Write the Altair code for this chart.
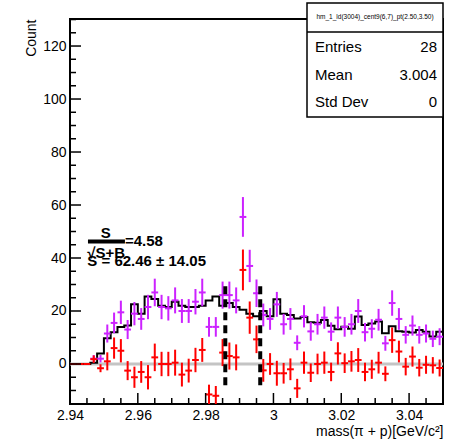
import altair as alt
import pandas as pd

# ---- histogram binning: 55 bins of 2 MeV/c^2 ----
X_MIN, X_MAX = 2.94, 3.05
Y_MIN, Y_MAX = -15.1, 130.2
BIN_W = 0.002
N_BINS = 55

# same-event pi+p candidates per bin (None = empty bin)
same_event = [None, None, None, 2, 2, 11.5, 15.5, 19.5, 13, 19,
              17, 21.5, 27, 21.5, 21, 24, 20, 20, 23.5, 27,
              14, 14, 26, 26, 24, 55.5, 37, 26.7, 18.5, 17,
              22.5, 15, 17, 8, 18, 12.3, 15, 17.5, 12.2, 17.5,
              14, 15, 20, 12, 13.3, 16.7, 7.8, 23, 17, 11,
              14.5, 11, 11.5, 9.5, 10.3]
same_event_err = [0, 0, 0, 1.4, 1.4, 3.4, 3.9, 4.4, 3.6, 4.4,
                  4.1, 4.6, 5.2, 4.6, 4.6, 4.9, 4.5, 4.5, 4.8, 5.2,
                  3.7, 3.7, 5.1, 5.1, 4.9, 7.5, 6.1, 5.2, 4.3, 4.1,
                  4.7, 3.9, 4.1, 2.8, 4.2, 3.5, 3.9, 4.2, 3.5, 4.2,
                  3.7, 3.9, 4.5, 3.5, 3.6, 4.1, 2.8, 4.8, 4.1, 3.3,
                  3.8, 3.3, 3.4, 3.1, 3.2]

# scaled mixed-event background (drawn as a step histogram)
mixed_bkg = [0, 0, 0, 0.5, 4, 9.7, 12, 14, 14.5, 22.5,
             19, 25.5, 24.5, 22, 21.5, 23.5, 22, 21.5, 21.5, 22,
             24, 25.5, 22, 23, 21.5, 20.5, 19, 18, 20, 18,
             24.4, 19, 18.5, 17.2, 17.7, 15.8, 15.6, 16.6, 14.4, 13.1,
             14.1, 13.3, 17.9, 14.7, 15.3, 16, 11.6, 14.2, 12.4, 12.2,
             11.9, 12.8, 12.2, 10.4, 12.2]

# background-subtracted signal
signal = [0, 0, 0, 1.8, -1.6, 1, 6, 5, -2.5, -5,
          -3, -5, 2.5, 0, 0, 0.5, -4, -2.5, 1.5, 5.3,
          -11.5, -12, 4.3, 3, 2.5, 35.5, 17.5, 9.3, -2.4, 0,
          -3.5, -3.5, -2, -9.2, 0.5, -3.3, 0, 0.5, -3, 4,
          0.3, 1, 1.5, -3, -2, 0.5, -3.7, 9, 4.7, -1,
          2.8, -1.4, -0.3, -0.5, -1.5]
signal_err = [0, 0, 0, 1.4, 1.5, 3.4, 4.0, 4.4, 3.6, 4.0,
              4.1, 4.6, 5.2, 4.6, 4.6, 4.9, 4.5, 4.5, 4.6, 4.5,
              3.7, 3.7, 5.1, 5.1, 4.9, 7.7, 6.1, 5.2, 4.3, 4.1,
              4.7, 3.9, 4.1, 3.6, 4.2, 3.5, 3.9, 4.2, 3.5, 4.2,
              3.7, 3.9, 4.5, 3.5, 3.6, 4.1, 2.8, 4.8, 4.1, 3.3,
              3.8, 3.3, 3.4, 3.1, 3.2]

# signal integration window
window_edges = [2.9858, 2.9961]
window_span = [-8, 30]

# fit annotation
significance_text = "=4.58"
yield_text = "S = 62.46 \u00b1 14.05"

# stats box contents
stats_title = "hm_1_ld(3004)_cent9(6,7)_pt(2.50,3.50)"
stats_names = ["Entries", "Mean", "Std Dev"]
stats_values = ["28", "3.004", "0"]

# axis ticks
x_major = [2.94, 2.96, 2.98, 3.00, 3.02, 3.04]
x_minor = [2.945, 2.95, 2.955, 2.965, 2.97, 2.975, 2.985, 2.99, 2.995,
           3.005, 3.01, 3.015, 3.025, 3.03, 3.035, 3.045, 3.05]
y_major = [0, 20, 40, 60, 80, 100, 120]
y_minor = [-15, -10, -5, 5, 10, 15, 25, 30, 35, 45, 50, 55, 65, 70, 75,
           85, 90, 95, 105, 110, 115, 125, 130]

W, H = 373, 385
FONT = "Liberation Sans"
PURPLE = "#cc22ff"
RED = "#ff0000"

lo = [X_MIN + BIN_W * i for i in range(N_BINS)]
bins = pd.DataFrame({
    "lo": lo,
    "hi": [v + BIN_W for v in lo],
    "mid": [v + BIN_W / 2 for v in lo],
    "same": same_event,
    "same_err": same_event_err,
    "sig": signal,
    "sig_err": signal_err,
})
bins["same"] = pd.to_numeric(bins["same"])
bins["same_lo"] = bins["same"] - bins["same_err"]
bins["same_hi"] = bins["same"] + bins["same_err"]
bins["sig_lo"] = bins["sig"] - bins["sig_err"]
bins["sig_hi"] = bins["sig"] + bins["sig_err"]
same_df = bins.dropna(subset=["same"])

step_df = pd.DataFrame({"x": lo + [X_MAX], "y": mixed_bkg + [mixed_bkg[-1]]})

xs = alt.Scale(domain=[X_MIN, X_MAX], nice=False, zero=False)
ys = alt.Scale(domain=[Y_MIN, Y_MAX], nice=False, zero=False)

x_axis = alt.Axis(values=x_major, format=".3~g", domain=False, ticks=False, grid=False,
                  labelPadding=4, labelFontSize=14, labelFont=FONT, labelColor="black",
                  labelFlush=False,
                  title="mass(\u03c0 + p)[GeV/c\u00b2]", titleFont=FONT, titleFontSize=14,
                  titleFontWeight="normal", titleColor="black", titleX=W, titleY=31,
                  titleAlign="right", titleBaseline="alphabetic")
y_axis = alt.Axis(values=y_major, format="d", domain=False, ticks=False, grid=False,
                  labelPadding=4, labelFontSize=14, labelFont=FONT, labelColor="black",
                  labelFlush=False,
                  title="Count", titleFont=FONT, titleFontSize=14, titleFontWeight="normal",
                  titleColor="black", titleAngle=270, titleX=-35, titleY=0,
                  titleAlign="right", titleBaseline="alphabetic")

zero_line = alt.Chart(pd.DataFrame({"x0": [X_MIN], "x1": [X_MAX], "y": [0]})).mark_rule(
    color="#c4c4c4", strokeWidth=3
).encode(
    x=alt.X("x0:Q", scale=xs, axis=x_axis),
    x2="x1:Q",
    y=alt.Y("y:Q", scale=ys, axis=y_axis),
)

bkg_line = alt.Chart(step_df).mark_line(
    interpolate="step-after", color="black", strokeWidth=2, clip=True
).encode(x=alt.X("x:Q", scale=xs), y=alt.Y("y:Q", scale=ys))


def error_cross(df, col, color):
    vert = alt.Chart(df).mark_rule(color=color, strokeWidth=2, clip=True).encode(
        x=alt.X("mid:Q", scale=xs),
        y=alt.Y(f"{col}_lo:Q", scale=ys),
        y2=f"{col}_hi:Q",
    )
    horiz = alt.Chart(df).mark_rule(color=color, strokeWidth=2, clip=True).encode(
        x=alt.X("lo:Q", scale=xs),
        x2="hi:Q",
        y=alt.Y(f"{col}:Q", scale=ys),
    )
    return vert + horiz


same_pts = error_cross(same_df, "same", PURPLE)
sig_pts = error_cross(bins, "sig", RED)

window_df = pd.DataFrame({"x": window_edges, "y0": [window_span[0]] * 2, "y1": [window_span[1]] * 2})
window_lines = alt.Chart(window_df).mark_rule(
    color="black", strokeWidth=4, strokeDash=[8, 5]
).encode(x=alt.X("x:Q", scale=xs), y=alt.Y("y0:Q", scale=ys), y2="y1:Q")

# inward-pointing frame ticks
xt_major = alt.Chart(pd.DataFrame({"t": x_major})).mark_rule(color="black", strokeWidth=1.5).encode(
    x=alt.X("t:Q", scale=xs), y=alt.value(H), y2=alt.value(H - 11))
xt_minor = alt.Chart(pd.DataFrame({"t": x_minor})).mark_rule(color="black", strokeWidth=1.5).encode(
    x=alt.X("t:Q", scale=xs), y=alt.value(H), y2=alt.value(H - 6))
yt_major = alt.Chart(pd.DataFrame({"t": y_major})).mark_rule(color="black", strokeWidth=1.5).encode(
    y=alt.Y("t:Q", scale=ys), x=alt.value(0), x2=alt.value(11))
yt_minor = alt.Chart(pd.DataFrame({"t": y_minor})).mark_rule(color="black", strokeWidth=1.5).encode(
    y=alt.Y("t:Q", scale=ys), x=alt.value(0), x2=alt.value(6))

# S/sqrt(S+B) and yield annotation
ann_df = pd.DataFrame({
    "x": [2.9491, 2.9562, 2.9451, 2.9451],
    "y": [49.4, 46.3, 42.0, 38.8],
    "t": ["S", significance_text, "\u221aS+B", yield_text],
})
ann_text = alt.Chart(ann_df).mark_text(
    font=FONT, fontSize=15, fontWeight="bold", align="left", baseline="middle", color="black"
).encode(x=alt.X("x:Q", scale=xs), y=alt.Y("y:Q", scale=ys), text="t:N")
frac_bar = alt.Chart(pd.DataFrame({"x0": [2.9453], "x1": [2.9562], "y": [46.2]})).mark_rule(
    color="black", strokeWidth=4
).encode(x=alt.X("x0:Q", scale=xs), x2="x1:Q", y=alt.Y("y:Q", scale=ys))

# statistics box above the top-right corner of the frame
BOX_L, BOX_T, BOX_B = 237, -16, 98
row_y = [28, 56, 83]
one = pd.DataFrame({"k": [0]})
box = alt.Chart(one).mark_rect(fill="white", stroke="black", strokeWidth=1.5).encode(
    x=alt.value(BOX_L), x2=alt.value(W), y=alt.value(BOX_T), y2=alt.value(BOX_B))
box_sep = alt.Chart(one).mark_rule(color="black", strokeWidth=1.5).encode(
    x=alt.value(BOX_L), x2=alt.value(W), y=alt.value(13))
box_title = alt.Chart(pd.DataFrame({"t": [stats_title]})).mark_text(
    font=FONT, fontSize=6.5, align="center", baseline="middle", color="black"
).encode(x=alt.value((BOX_L + W) / 2), y=alt.value(-2), text="t:N")

box_rows = []
for name, val, yy in zip(stats_names, stats_values, row_y):
    row = pd.DataFrame({"name": [name], "val": [val]})
    box_rows.append(alt.Chart(row).mark_text(
        font=FONT, fontSize=15, align="left", baseline="middle", color="black"
    ).encode(x=alt.value(BOX_L + 8), y=alt.value(yy), text="name:N"))
    box_rows.append(alt.Chart(row).mark_text(
        font=FONT, fontSize=15, align="right", baseline="middle", color="black"
    ).encode(x=alt.value(W - 6), y=alt.value(yy), text="val:N"))

chart = alt.layer(
    zero_line, bkg_line, same_pts, sig_pts, window_lines,
    xt_major, xt_minor, yt_major, yt_minor,
    frac_bar, ann_text,
    box, box_sep, box_title, *box_rows,
).properties(
    width=W, height=H,
    autosize=alt.AutoSizeParams(type="none"),
    padding={"left": 70, "top": 19, "right": 27, "bottom": 38},
    background="white",
).configure_view(stroke="black", strokeWidth=2)

chart.save("out.html", embed_options={"renderer": "svg", "actions": False})
